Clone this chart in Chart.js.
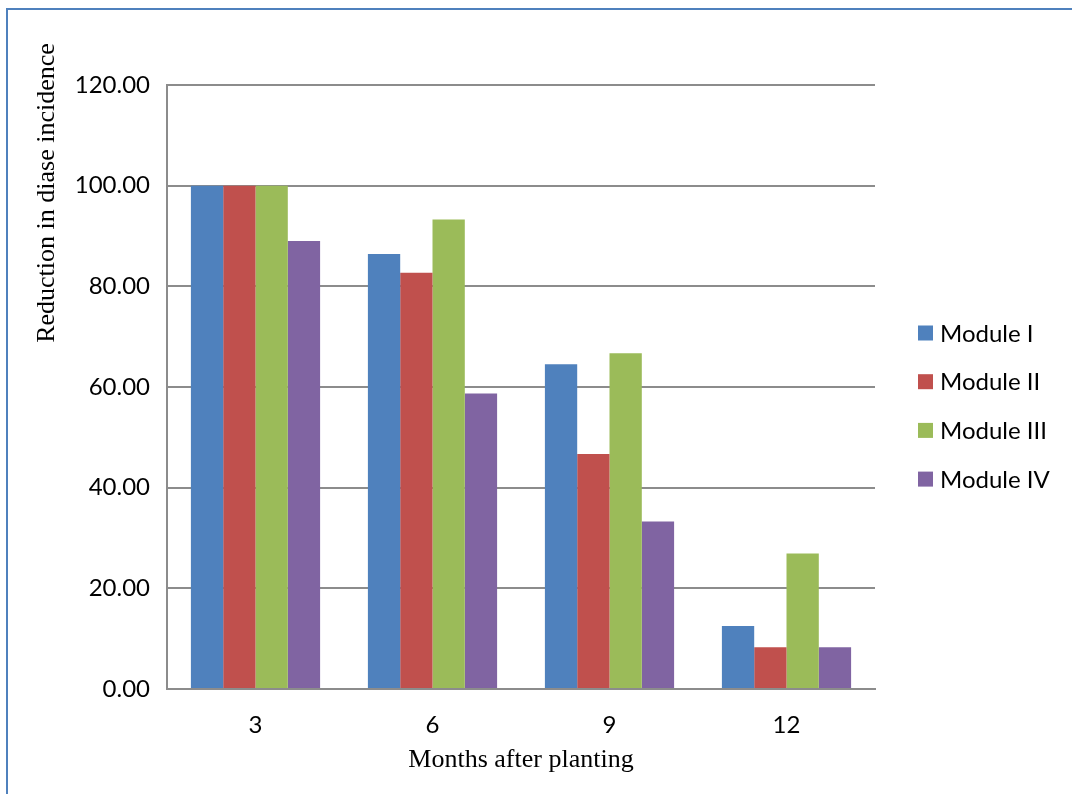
<!DOCTYPE html>
<html>
<head>
<meta charset="utf-8">
<script src="https://cdn.jsdelivr.net/npm/chart.js@4.4.1/dist/chart.umd.min.js"></script>
<style>
  html, body { margin: 0; padding: 0; background: #fff; }
  #wrap { position: relative; width: 1072px; height: 794px; overflow: hidden; }
  #frame { position: absolute; left: 6px; top: 8px; width: 1100px; height: 820px;
           border-left: 2px solid #4f81bd; border-top: 2px solid #4f81bd; box-sizing: border-box; }
  canvas { position: absolute; left: 0; top: 0; }
</style>
</head>
<body>
<div id="wrap">
  <div id="frame"></div>
  <canvas id="chart" width="1072" height="794"></canvas>
</div>
<script>
// Months after planting
const months = ['3', '6', '9', '12'];

// Reduction in disease incidence (%) per module
const moduleI   = [100.00, 86.40, 64.50, 12.50];
const moduleII  = [100.00, 82.70, 46.70, 8.30];
const moduleIII = [100.00, 93.30, 66.70, 26.90];
const moduleIV  = [89.00, 58.70, 33.30, 8.30];

const seriesNames = ['Module I', 'Module II', 'Module III', 'Module IV'];
const seriesColors = ['#4f81bd', '#c0504d', '#9bbb59', '#8064a2'];

const yTicks = [0, 20, 40, 60, 80, 100, 120];

const labelFont = 'Lato, "Open Sans", sans-serif';
const serifFont = '"Liberation Serif", "DejaVu Serif", serif';

// Rotated y-axis title plus the legend column on the right
const extrasPlugin = {
  id: 'extras',
  afterDraw(chart) {
    const ctx = chart.ctx;
    ctx.save();
    ctx.fillStyle = '#000';
    ctx.font = '26px ' + serifFont;
    ctx.textAlign = 'center';
    ctx.textBaseline = 'middle';
    ctx.translate(47, 193);
    ctx.rotate(-Math.PI / 2);
    ctx.fillText('Reduction in diase incidence', 0, 0);
    ctx.restore();

    ctx.save();
    ctx.font = '24px ' + labelFont;
    ctx.textBaseline = 'middle';
    ctx.textAlign = 'left';
    chart.data.datasets.forEach((ds, i) => {
      const cy = 333 + i * 48.7;
      ctx.fillStyle = ds.backgroundColor;
      ctx.fillRect(918, cy - 7.5, 15, 15);
      ctx.fillStyle = '#000';
      ctx.fillText(ds.label, 940, cy + 1);
    });
    ctx.restore();
  }
};

const seriesData = [moduleI, moduleII, moduleIII, moduleIV];

new Chart(document.getElementById('chart'), {
  type: 'bar',
  data: {
    labels: months,
    datasets: seriesNames.map((name, i) => ({
      label: name,
      data: seriesData[i],
      backgroundColor: seriesColors[i],
      borderWidth: 0,
      categoryPercentage: 0.73,
      barPercentage: 1.0
    }))
  },
  options: {
    responsive: false,
    devicePixelRatio: 1,
    animation: false,
    layout: { padding: { left: 0, top: 85, right: 197, bottom: 0 } },
    plugins: {
      legend: { display: false },
      tooltip: { enabled: false }
    },
    scales: {
      x: {
        grid: { display: false, drawTicks: false },
        border: { display: true, color: '#8c8c8c', width: 2 },
        ticks: { color: '#000', font: { family: labelFont, size: 24 }, padding: 22 },
        title: {
          display: true,
          text: 'Months after planting',
          color: '#000',
          font: { family: serifFont, size: 26 },
          padding: { top: 0, bottom: 18 }
        },
        afterFit(scale) { scale.height = 105; }
      },
      y: {
        min: 0,
        max: 120,
        afterBuildTicks(scale) { scale.ticks = yTicks.map(v => ({ value: v })); },
        grid: { color: '#8c8c8c', lineWidth: 2, drawTicks: false },
        border: { display: true, color: '#8c8c8c', width: 2 },
        ticks: {
          color: '#000',
          font: { family: labelFont, size: 24 },
          padding: 17,
          callback: v => Number(v).toFixed(2)
        },
        afterFit(scale) { scale.width = 167; }
      }
    }
  },
  plugins: [extrasPlugin]
});
</script>
</body>
</html>
